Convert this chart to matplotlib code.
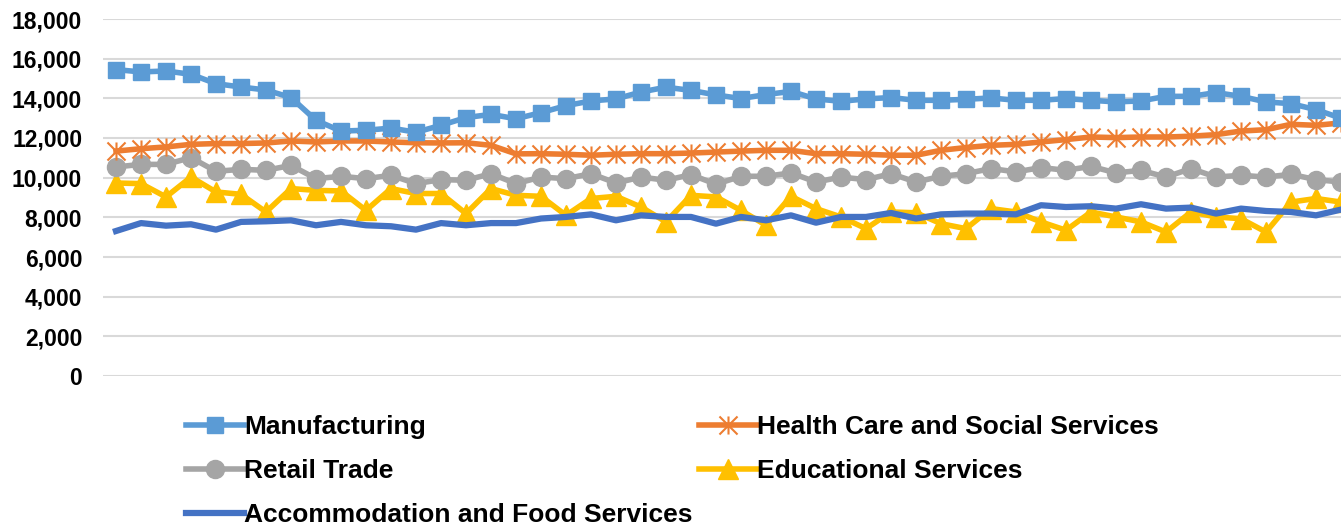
import matplotlib
matplotlib.use("Agg")
import matplotlib.pyplot as plt
from matplotlib.path import Path
from matplotlib.ticker import StrMethodFormatter
import numpy as np

plt.rcParams["font.family"] = ["Liberation Sans", "DejaVu Sans"]
plt.rcParams["font.weight"] = "bold"

manufacturing = [15450, 15330, 15380, 15210, 14740, 14570, 14420, 14040, 12890, 12350,
                 12390, 12500, 12290, 12640, 13030, 13190, 12970, 13280, 13630, 13870,
                 13970, 14320, 14560, 14400, 14170, 13990, 14190, 14350, 13970, 13850,
                 13970, 14040, 13900, 13900, 13950, 14020, 13900, 13900, 13990, 13900,
                 13820, 13870, 14100, 14100, 14290, 14100, 13820, 13730, 13430, 13000]
health_care = [11340, 11460, 11550, 11680, 11720, 11720, 11750, 11850, 11800, 11850,
               11850, 11800, 11760, 11750, 11760, 11630, 11200, 11210, 11180, 11130,
               11180, 11210, 11210, 11240, 11290, 11340, 11380, 11380, 11210, 11210,
               11180, 11130, 11130, 11380, 11520, 11630, 11680, 11800, 11920, 12050,
               12020, 12050, 12050, 12090, 12170, 12350, 12420, 12690, 12640, 12760]
retail = [10540, 10670, 10670, 11010, 10320, 10420, 10370, 10620, 9950, 10070,
          9950, 10120, 9700, 9900, 9870, 10200, 9700, 10030, 9950, 10200,
          9730, 10030, 9870, 10150, 9670, 10070, 10070, 10240, 9780, 10030,
          9900, 10200, 9780, 10070, 10200, 10460, 10290, 10510, 10370, 10570,
          10240, 10370, 10030, 10460, 10030, 10120, 10030, 10170, 9900, 9780]
educational = [9730, 9700, 9030, 10030, 9280, 9160, 8270, 9450, 9360, 9330,
               8350, 9450, 9200, 9200, 8190, 9450, 9110, 9060, 8100, 8950,
               9060, 8520, 7770, 9110, 9030, 8350, 7600, 9060, 8440, 8020,
               7430, 8270, 8230, 7680, 7430, 8440, 8270, 7770, 7350, 8270,
               8020, 7770, 7260, 8270, 8020, 7930, 7260, 8770, 8950, 8770]
accommodation = [7310, 7710, 7580, 7650, 7380, 7770, 7800, 7850, 7600, 7770,
                 7600, 7550, 7380, 7710, 7600, 7710, 7710, 7940, 8020, 8150,
                 7850, 8100, 8020, 8020, 7680, 8020, 7850, 8100, 7730, 8020,
                 8020, 8220, 7940, 8150, 8190, 8190, 8150, 8610, 8520, 8560,
                 8440, 8660, 8440, 8490, 8190, 8440, 8320, 8270, 8100, 8390]

x = np.arange(len(manufacturing))

# excel-style asterisk: x plus vertical bar
asterisk = Path([(0, -1), (0, 1), (-1, -1), (1, 1), (-1, 1), (1, -1)],
                [Path.MOVETO, Path.LINETO] * 3)

fig = plt.figure(figsize=(13.41, 5.29), dpi=100)
ax = fig.add_axes([103 / 1341, 1 - 376 / 529, 1 - 103 / 1341, 357 / 529])

lw = 4.0
l_man, = ax.plot(x, manufacturing, color="#5B9BD5", lw=lw, marker="s", ms=12,
                 label="Manufacturing", zorder=5)
l_hc, = ax.plot(x, health_care, color="#ED7D31", lw=lw, marker=asterisk, ms=13,
                mew=1.5, mec="#ED7D31", mfc="none",
                label="Health Care and Social Services", zorder=4)
l_ret, = ax.plot(x, retail, color="#A5A5A5", lw=lw, marker="o", ms=13,
                 label="Retail Trade", zorder=3)
l_edu, = ax.plot(x, educational, color="#FFC000", lw=lw, marker="^", ms=14,
                 label="Educational Services", zorder=2)
l_acc, = ax.plot(x, accommodation, color="#4472C4", lw=4.5,
                 label="Accommodation and Food Services", zorder=2.5)

ax.set_xlim(-0.52, 49.0)
ax.set_ylim(0, 18000)
ax.set_yticks(np.arange(0, 18001, 2000))
ax.yaxis.set_major_formatter(StrMethodFormatter("{x:,.0f}"))
ax.set_xticks([])
ax.tick_params(axis="y", length=0, pad=15, labelsize=16.5)
for lab in ax.get_yticklabels():
    lab.set_fontweight("bold")
ax.grid(axis="y", color="#D9D9D9", lw=1.5)
ax.set_axisbelow(True)
for s in ax.spines.values():
    s.set_visible(False)

handles = [l_man, l_ret, l_acc, l_hc, l_edu]
leg = fig.legend(handles=handles, labels=[h.get_label() for h in handles],
                 ncol=2, loc="upper left", bbox_to_anchor=(186 / 1341, 1 - 415 / 529),
                 frameon=False, borderpad=0, borderaxespad=0,
                 handlelength=2.2, handletextpad=0.0, columnspacing=0.25,
                 labelspacing=0.76, numpoints=1,
                 prop={"size": 19, "weight": "bold"})

fig.savefig("out.png", dpi=100)
